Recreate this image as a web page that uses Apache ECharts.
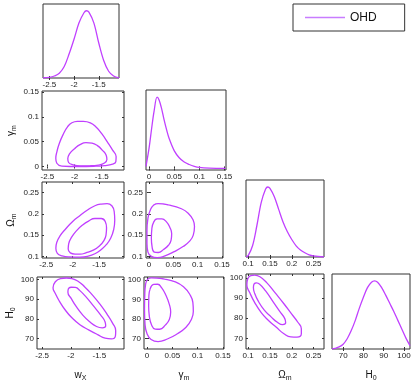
<!DOCTYPE html>
<html>
<head>
<meta charset="utf-8">
<script src="https://cdn.jsdelivr.net/npm/echarts@6/dist/echarts.min.js"></script>
<style>html,body{margin:0;padding:0;background:#fff}#c{width:415px;height:383px}</style>
</head>
<body>
<div id="c"></div>
<script>
// ---------- tick values ----------
const wTicks = [-2.5, -2, -1.5];
const gTicks = [0, 0.05, 0.1, 0.15];
const oTicks = [0.1, 0.15, 0.2, 0.25];
const hTicks = [70, 80, 90, 100];

// ---------- 1D marginal densities (normalised) ----------
const wDensX = [-2.63,-2.5,-2.4,-2.3,-2.2,-2.1,-2.0,-1.9,-1.8,-1.75,-1.7,-1.6,-1.5,-1.4,-1.3,-1.2,-1.09];
const wDensY = [0,0.01,0.03,0.07,0.17,0.36,0.58,0.82,0.97,1.0,0.98,0.82,0.52,0.26,0.10,0.03,0.0];
const gDensX = [-0.006,0,0.005,0.01,0.016,0.02,0.025,0.03,0.035,0.04,0.05,0.06,0.07,0.08,0.09,0.1,0.12,0.152];
const gDensY = [0.03,0.28,0.55,0.8,1.0,0.96,0.84,0.68,0.54,0.42,0.25,0.15,0.09,0.055,0.03,0.015,0.005,0];
const oDensX = [0.095,0.1,0.11,0.12,0.13,0.14,0.145,0.15,0.16,0.17,0.18,0.19,0.2,0.21,0.22,0.23,0.24,0.25,0.274];
const oDensY = [0,0.02,0.16,0.45,0.78,0.97,1.0,0.98,0.86,0.68,0.50,0.36,0.25,0.16,0.10,0.06,0.03,0.015,0];
const hDensX = [64.5,66,68,70,72,74,76,78,80,82,84,85.5,87,89,91,93,95,97,99,101,103];
const hDensY = [0,0.01,0.03,0.07,0.15,0.27,0.42,0.6,0.76,0.9,0.98,1.0,0.98,0.9,0.79,0.67,0.55,0.42,0.29,0.16,0.05];

// ---------- 2D contours (1σ inner, 2σ outer) ----------
const wgOuter = [[-1.926,0],[-2.235,0.001],[-2.327,0.0066],[-2.346,0.0165],[-2.325,0.030],[-2.28,0.047],[-2.204,0.066],[-2.13,0.080],[-2.05,0.088],[-1.95,0.091],[-1.84,0.091],[-1.71,0.088],[-1.6,0.079],[-1.5,0.066],[-1.4,0.050],[-1.3,0.033],[-1.235,0.020],[-1.24,0.010],[-1.3,0.005],[-1.45,0.002],[-1.65,0.0005]];
const wgInner = [[-1.895,0.0013],[-2.03,0.0035],[-2.11,0.008],[-2.125,0.016],[-2.09,0.026],[-2.0,0.036],[-1.9,0.044],[-1.79,0.048],[-1.68,0.047],[-1.58,0.042],[-1.49,0.033],[-1.42,0.023],[-1.405,0.014],[-1.45,0.007],[-1.56,0.003],[-1.72,0.0015]];
const woOuter = [[-1.86,0.098],[-2.05,0.0985],[-2.2,0.101],[-2.29,0.107],[-2.318,0.119],[-2.3,0.133],[-2.24,0.148],[-2.13,0.165],[-2.0,0.182],[-1.86,0.196],[-1.72,0.209],[-1.58,0.219],[-1.46,0.223],[-1.35,0.224],[-1.26,0.219],[-1.215,0.205],[-1.205,0.185],[-1.225,0.163],[-1.28,0.143],[-1.36,0.128],[-1.46,0.116],[-1.58,0.106],[-1.72,0.100]];
const woInner = [[-1.955,0.105],[-2.045,0.108],[-2.085,0.117],[-2.075,0.130],[-2.02,0.145],[-1.93,0.160],[-1.82,0.173],[-1.70,0.183],[-1.58,0.189],[-1.46,0.189],[-1.385,0.182],[-1.36,0.167],[-1.37,0.150],[-1.41,0.137],[-1.49,0.125],[-1.60,0.115],[-1.75,0.108],[-1.86,0.105]];
const whOuter = [[-2.076,100.7],[-1.98,100.4],[-1.88,99.2],[-1.76,96.3],[-1.62,92.0],[-1.49,87.4],[-1.37,82.5],[-1.27,77.8],[-1.215,74.0],[-1.22,71.3],[-1.29,69.8],[-1.4,70.2],[-1.53,72.0],[-1.68,74.3],[-1.84,77.0],[-1.98,80.5],[-2.1,84.6],[-2.2,89.0],[-2.27,92.8],[-2.31,95.8],[-2.27,98.8],[-2.18,100.4]];
const whInner = [[-1.99,96.0],[-1.92,95.9],[-1.84,94.3],[-1.73,91.0],[-1.6,86.4],[-1.48,82.0],[-1.40,78.4],[-1.39,76.3],[-1.45,75.4],[-1.55,76.1],[-1.67,78.5],[-1.79,81.9],[-1.90,86.0],[-1.99,90.2],[-2.05,93.5],[-2.04,95.4]];
const goOuter = [[0.0187,0.224],[0.04,0.221],[0.0667,0.212],[0.081,0.201],[0.0905,0.186],[0.0935,0.170],[0.091,0.150],[0.083,0.135],[0.0700,0.123],[0.0520,0.111],[0.0330,0.101],[0.0170,0.097],[0.0050,0.100],[-0.0020,0.110],[-0.0040,0.130],[-0.0040,0.160],[-0.0020,0.190],[0.0040,0.212],[0.0100,0.221]];
const goInner = [[0.0167,0.188],[0.0267,0.188],[0.036,0.181],[0.043,0.168],[0.0467,0.153],[0.0455,0.138],[0.040,0.126],[0.030,0.116],[0.0190,0.109],[0.0110,0.110],[0.0065,0.122],[0.0050,0.143],[0.0060,0.165],[0.0100,0.181]];
const ghOuter = [[0.0086,101.1],[0.0349,100.4],[0.0560,99.0],[0.0720,96.5],[0.0840,92.8],[0.0905,88.5],[0.0914,83.9],[0.0870,79.5],[0.0770,75.8],[0.0600,72.5],[0.0400,69.8],[0.0217,68.5],[0.0080,69.6],[0.0000,72.5],[-0.0040,77.5],[-0.0050,85.0],[-0.0045,92.0],[-0.0030,97.5],[0.0010,100.3]];
const ghInner = [[0.0130,97.7],[0.0210,97.8],[0.0290,95.9],[0.0370,92.3],[0.0440,87.5],[0.0467,83.6],[0.0440,79.8],[0.0360,76.9],[0.0250,74.8],[0.0160,74.9],[0.0090,77.0],[0.0045,81.5],[0.0032,86.5],[0.0036,91.5],[0.0060,95.3]];
const ohOuter = [[0.115,101.4],[0.127,100.6],[0.143,97.6],[0.162,92.6],[0.182,87.2],[0.200,82.0],[0.214,78.0],[0.222,74.8],[0.222,72.3],[0.212,70.6],[0.198,70.7],[0.182,72.3],[0.164,75.6],[0.146,79.0],[0.130,82.8],[0.115,87.8],[0.104,92.5],[0.097,96.5],[0.099,99.6],[0.106,101.2]];
const ohInner = [[0.119,97.6],[0.127,96.8],[0.140,93.6],[0.1577,88.0],[0.172,83.5],[0.184,79.8],[0.186,77.7],[0.179,76.8],[0.167,78.0],[0.152,80.8],[0.137,84.0],[0.124,88.2],[0.115,92.3],[0.112,95.3],[0.114,97.2]];

const seriesName = 'OHD';

// ---------- styling / layout ----------
const FONT = '"Liberation Sans", Arial, Helvetica, sans-serif';
const COLOR = '#c040ff';
const names = {
  w: '{a|w}{b|X}', g: '{a|γ}{b|m}', o: '{a|Ω}{b|m}', h: '{a|H}{b|0}'
};
const ticks = { w: wTicks, g: gTicks, o: oTicks, h: hTicks };
const panels = [
  { box:[43,4,76,74],   x:'w', xr:[-2.63,-1.09], dens:[wDensX,wDensY] },
  { box:[42,91,82,79],  x:'w', xr:[-2.6,-1.09],  y:'g', yr:[-0.007,0.152], yName:true, c:[wgOuter,wgInner] },
  { box:[146,90,80,80], x:'g', xr:[-0.006,0.153], dens:[gDensX,gDensY], dmin:-0.022 },
  { box:[42,182,82,76], x:'w', xr:[-2.58,-1.03], y:'o', yr:[0.096,0.275], yName:true, c:[woOuter,woInner] },
  { box:[146,182,77,76],x:'g', xr:[-0.006,0.152], y:'o', yr:[0.096,0.275], c:[goOuter,goInner] },
  { box:[246,180,78,77],x:'o', xr:[0.095,0.274], dens:[oDensX,oDensY] },
  { box:[37,277,87,81], x:'w', xr:[-2.59,-1.07], y:'h', yr:[64.7,101.2], yName:true, xName:true, c:[whOuter,whInner] },
  { box:[144,277,80,81],x:'g', xr:[-0.006,0.152], y:'h', yr:[64.7,101.5], xName:true, c:[ghOuter,ghInner] },
  { box:[246,274,78,83],x:'o', xr:[0.095,0.274], y:'h', yr:[64.7,102], xName:true, c:[ohOuter,ohInner] },
  { box:[332,274,78,83],x:'h', xr:[64.5,103], dens:[hDensX,hDensY], xName:true }
];

const fmt = v => String(Math.round(v * 1000) / 1000);
const rich = {
  a: { fontSize: 10, fontFamily: FONT, color: '#111', verticalAlign: 'middle', lineHeight: 14 },
  b: { fontSize: 7, fontFamily: FONT, color: '#111', verticalAlign: 'bottom', lineHeight: 14 }
};
const tickLine = { color: '#333', width: 1 };
const curveStyle = { color: COLOR, width: 1.3 };

const grid = [], xAxis = [], yAxis = [], series = [];
panels.forEach((p, i) => {
  grid.push({ left: p.box[0], top: p.box[1], width: p.box[2], height: p.box[3],
    show: true, borderColor: '#333', borderWidth: 1, backgroundColor: 'transparent' });
  const xt = ticks[p.x];
  xAxis.push({ gridIndex: i, type: 'value', min: p.xr[0], max: p.xr[1], position: 'bottom',
    splitLine: { show: false }, axisLine: { show: false },
    axisTick: { show: true, inside: true, length: 2, customValues: xt, lineStyle: tickLine },
    axisLabel: { customValues: xt, formatter: fmt, fontSize: 8, color: '#222', margin: 3, fontFamily: FONT },
    name: p.xName ? names[p.x] : '', nameLocation: 'middle', nameGap: 19,
    nameTextStyle: { rich } });
  xAxis.push({ gridIndex: i, type: 'value', min: p.xr[0], max: p.xr[1], position: 'top',
    splitLine: { show: false }, axisLine: { show: false },
    axisTick: { show: true, inside: true, length: 2, customValues: xt, lineStyle: tickLine },
    axisLabel: { show: false } });
  if (p.dens) {
    yAxis.push({ gridIndex: i, type: 'value', min: p.dmin || 0, max: 1.1, show: false });
    yAxis.push({ gridIndex: i, type: 'value', min: p.dmin || 0, max: 1.1, show: false, position: 'right' });
    const d = p.dens[0].map((x, k) => [x, p.dens[1][k]]);
    series.push({ type: 'line', name: 'density' + i, xAxisIndex: 2 * i, yAxisIndex: 2 * i,
      data: d, smooth: 0.35, symbol: 'none', clip: true, silent: true,
      lineStyle: curveStyle, itemStyle: { color: COLOR } });
  } else {
    const yt = ticks[p.y];
    yAxis.push({ gridIndex: i, type: 'value', min: p.yr[0], max: p.yr[1], position: 'left',
      splitLine: { show: false }, axisLine: { show: false },
      axisTick: { show: true, inside: true, length: 2, customValues: yt, lineStyle: tickLine },
      axisLabel: { customValues: yt, formatter: fmt, fontSize: 8, color: '#222', margin: 3, fontFamily: FONT },
      name: p.yName ? names[p.y] : '', nameLocation: 'middle', nameRotate: 90,
      nameGap: p.y === 'h' ? 20 : 24, nameTextStyle: { rich } });
    yAxis.push({ gridIndex: i, type: 'value', min: p.yr[0], max: p.yr[1], position: 'right',
      splitLine: { show: false }, axisLine: { show: false },
      axisTick: { show: true, inside: true, length: 2, customValues: yt, lineStyle: tickLine },
      axisLabel: { show: false } });
    p.c.forEach((ring, k) => {
      const n = ring.length;
      const closed = [ring[n - 1]].concat(ring, [ring[0], ring[1]]);
      series.push({ type: 'line', name: (i === 1 && k === 0) ? seriesName : 'contour' + i + '_' + k,
        xAxisIndex: 2 * i, yAxisIndex: 2 * i, data: closed, smooth: 0.5, symbol: 'none',
        clip: true, silent: true, lineStyle: curveStyle, itemStyle: { color: COLOR } });
    });
  }
});

const chart = echarts.init(document.getElementById('c'), null, { renderer: 'canvas' });
chart.setOption({
  animation: false,
  backgroundColor: '#fff',
  grid, xAxis, yAxis, series,
  legend: {
    data: [seriesName], left: 293, top: 4, orient: 'horizontal',
    icon: 'rect', itemWidth: 40, itemHeight: 1.5,
    itemStyle: { color: '#c87cff' },
    padding: [6, 28, 6, 12],
    borderColor: '#333', borderWidth: 1, backgroundColor: '#fff',
    textStyle: { fontSize: 12, fontFamily: FONT, color: '#111', lineHeight: 15 }
  }
});
</script>
</body>
</html>
